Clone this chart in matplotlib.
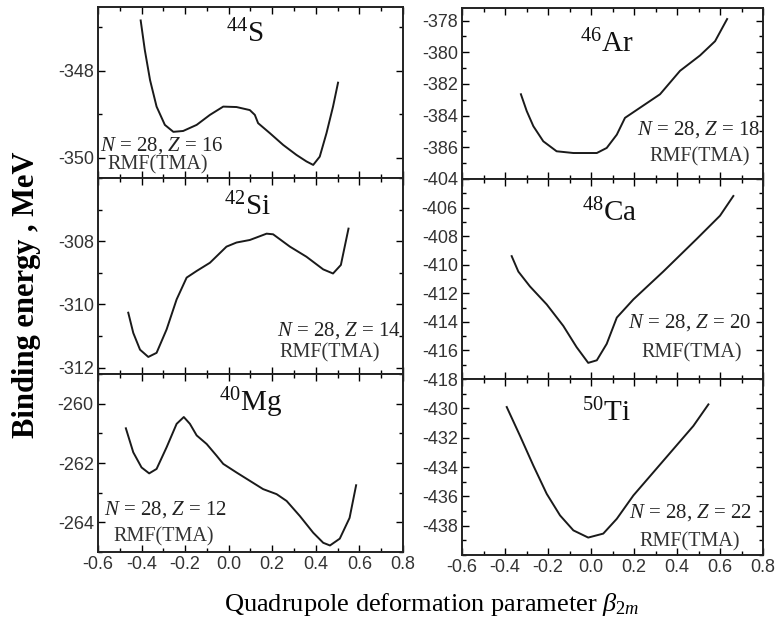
import matplotlib.pyplot as plt
from matplotlib.ticker import MultipleLocator

plt.rcParams['font.family'] = ['Liberation Serif', 'DejaVu Serif']
plt.rcParams['mathtext.fontset'] = 'custom'
plt.rcParams['mathtext.rm'] = 'Liberation Serif'
plt.rcParams['mathtext.it'] = 'Liberation Serif:italic'
plt.rcParams['mathtext.bf'] = 'Liberation Serif:bold'
plt.rcParams['axes.unicode_minus'] = False

# 44S
beta_s44 = [-0.404, -0.385, -0.361, -0.331, -0.293, -0.254, -0.209, -0.147, -0.086, -0.025,
            0.036, 0.097, 0.120, 0.135, 0.189, 0.250, 0.311, 0.357, 0.388, 0.418, 0.449, 0.479, 0.502]
e_s44 = [-346.84, -347.52, -348.21, -348.82, -349.24, -349.40, -349.38, -349.24, -349.01, -348.82,
         -348.83, -348.90, -349.01, -349.20, -349.43, -349.70, -349.93, -350.08, -350.16, -349.97,
         -349.43, -348.82, -348.27]

# 42Si
beta_si42 = [-0.461, -0.438, -0.407, -0.369, -0.331, -0.285, -0.239, -0.193, -0.147, -0.086, -0.010,
             0.036, 0.097, 0.128, 0.174, 0.204, 0.281, 0.357, 0.434, 0.479, 0.515, 0.550]
e_si42 = [-310.26, -310.90, -311.43, -311.66, -311.53, -310.79, -309.84, -309.15, -308.94, -308.68,
          -308.17, -308.04, -307.96, -307.88, -307.76, -307.78, -308.17, -308.49, -308.89, -309.02,
          -308.75, -307.60]

# 40Mg
beta_mg40 = [-0.472, -0.438, -0.400, -0.365, -0.331, -0.285, -0.239, -0.206, -0.178, -0.147, -0.101,
             -0.056, -0.025, 0.036, 0.097, 0.158, 0.220, 0.266, 0.327, 0.388, 0.434, 0.465, 0.510,
             0.555, 0.585]
e_mg40 = [-260.83, -261.64, -262.15, -262.35, -262.20, -261.47, -260.68, -260.45, -260.68, -261.07,
          -261.36, -261.75, -262.03, -262.32, -262.60, -262.88, -263.05, -263.28, -263.79, -264.35,
          -264.69, -264.78, -264.55, -263.85, -262.75]

# 46Ar
beta_ar46 = [-0.326, -0.299, -0.268, -0.222, -0.160, -0.082, 0.027, 0.073, 0.120, 0.158, 0.228,
             0.321, 0.414, 0.507, 0.577, 0.633]
e_ar46 = [-382.65, -383.71, -384.67, -385.62, -386.25, -386.36, -386.36, -386.04, -385.20, -384.14,
          -383.50, -382.65, -381.17, -380.20, -379.30, -377.90]

# 48Ca
beta_ca48 = [-0.369, -0.338, -0.284, -0.206, -0.129, -0.067, -0.013, 0.027, 0.073, 0.120, 0.197,
             0.336, 0.492, 0.600, 0.662]
e_ca48 = [-409.40, -410.48, -411.52, -412.78, -414.28, -415.77, -416.87, -416.69, -415.54, -413.70,
          -412.43, -410.48, -408.19, -406.57, -405.19]

# 50Ti
beta_ti50 = [-0.392, -0.330, -0.268, -0.206, -0.144, -0.082, -0.013, 0.057, 0.120, 0.197, 0.290,
             0.383, 0.476, 0.546]
e_ti50 = [-429.91, -431.88, -433.91, -435.83, -437.30, -438.32, -438.81, -438.54, -437.53, -435.94,
          -434.36, -432.78, -431.20, -429.73]

xticks = [-0.6, -0.4, -0.2, 0.0, 0.2, 0.4, 0.6, 0.8]

# rect, beta, energy, ylim, yticks, nucleus, Z, bottom row?, title pos, NZ pos/align, RMF pos/align
panels = [
    ([0.1261, 0.7184, 0.3925, 0.2706], beta_s44, e_s44, (-350.46, -346.53), [-350, -348],
     r'$^{44}$S', 16, False, (0.48, 0.84), (0.005, 0.19, 'left'), (0.03, 0.076, 'left')),
    ([0.1261, 0.4082, 0.3925, 0.3101], beta_si42, e_si42, (-312.2, -306.0), [-312, -310, -308],
     r'$^{42}$Si', 14, False, (0.49, 0.85), (0.995, 0.224, 'right'), (0.76, 0.107, 'center')),
    ([0.1261, 0.1266, 0.3925, 0.2816], beta_mg40, e_mg40, (-265.0, -259.0), [-264, -262, -260],
     r'$^{40}$Mg', 12, True, (0.50, 0.837), (0.02, 0.236, 'left'), (0.05, 0.084, 'left')),
    ([0.5946, 0.7168, 0.3874, 0.2706], beta_ar46, e_ar46, (-388.0, -377.2),
     [-386, -384, -382, -380, -378],
     r'$^{46}$Ar', 18, False, (0.48, 0.79), (0.99, 0.287, 'right'), (0.79, 0.13, 'center')),
    ([0.5946, 0.4003, 0.3874, 0.3165], beta_ca48, e_ca48, (-418.0, -404.0),
     [-418, -416, -414, -412, -410, -408, -406, -404],
     r'$^{48}$Ca', 20, False, (0.49, 0.83), (0.96, 0.28, 'right'), (0.764, 0.13, 'center')),
    ([0.5946, 0.1218, 0.3874, 0.2785], beta_ti50, e_ti50, (-440.0, -428.0),
     [-438, -436, -434, -432, -430],
     r'$^{50}$Ti', 22, True, (0.48, 0.807), (0.965, 0.24, 'right'), (0.757, 0.074, 'center')),
]

fig = plt.figure(figsize=(7.77, 6.32), dpi=100)

for rect, bx, ey, ylim, yt, name, z, bottom, tpos, nzpos, rmfpos in panels:
    ax = fig.add_axes(rect)
    ax.plot(bx, ey, color='#1a1a1a', lw=1.4)
    ax.set_xlim(-0.6, 0.8)
    ax.set_ylim(*ylim)
    ax.set_xticks(xticks)
    ax.xaxis.set_minor_locator(MultipleLocator(0.1))
    ax.set_yticks(yt)
    ax.yaxis.set_minor_locator(MultipleLocator(1))
    ax.tick_params(which='both', direction='in', top=True, right=True,
                   labelsize=13, labelcolor='#333333', width=1.0, pad=3)
    ax.tick_params(which='major', length=5)
    ax.tick_params(which='minor', length=3)
    for lab in ax.get_yticklabels() + ax.get_xticklabels():
        lab.set_family('Liberation Sans')
    if not bottom:
        ax.tick_params(labelbottom=False)
    for sp in ax.spines.values():
        sp.set_linewidth(1.4)
        sp.set_color('#222222')
    ax.text(tpos[0], tpos[1], name, transform=ax.transAxes, fontsize=21,
            ha='center', va='center', color='#111111')
    ax.text(nzpos[0], nzpos[1], rf'$N$ = 28, $Z$ = {z}', transform=ax.transAxes,
            fontsize=15, ha=nzpos[2], va='center', color='#222222')
    ax.text(rmfpos[0], rmfpos[1], 'RMF(TMA)', transform=ax.transAxes,
            fontsize=14.5, ha=rmfpos[2], va='center', color='#333333')

fig.text(0.034, 0.533, 'Binding energy , MeV', rotation=90, fontsize=22,
         fontweight='bold', ha='center', va='center')
fig.text(0.556, 0.043, r'Quadrupole deformation parameter $\beta_{2m}$', fontsize=19,
         ha='center', va='center')

fig.savefig('out.png', dpi=100)
